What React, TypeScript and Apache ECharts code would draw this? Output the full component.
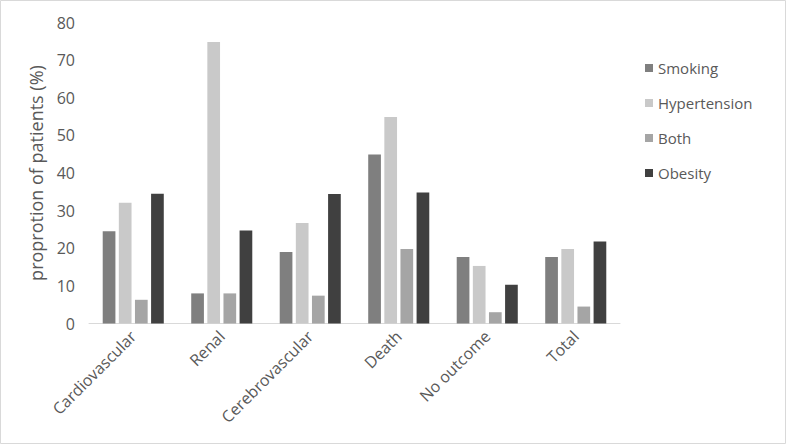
import React, { useEffect, useRef } from "react";
import * as echarts from "echarts";

const categories = ["Cardiovascular", "Renal", "Cerebrovascular", "Death", "No outcome", "Total"];
const smoking = [24.5, 8.0, 19.0, 44.9, 17.7, 17.7];
const hypertension = [32.1, 74.8, 26.7, 54.9, 15.3, 19.8];
const both = [6.3, 8.0, 7.4, 19.8, 3.0, 4.5];
const obesity = [34.5, 24.7, 34.4, 34.8, 10.3, 21.8];
const seriesNames = ["Smoking", "Hypertension", "Both", "Obesity"];
const seriesColors = ["#7f7f7f", "#c9c9c9", "#a5a5a5", "#404040"];
const yTitle = "proprotion of patients (%)";

const FONT = "'Open Sans', 'DejaVu Sans', sans-serif";

export default function App() {
  const ref = useRef<HTMLDivElement>(null);
  useEffect(() => {
    if (!ref.current) return;
    const chart = echarts.init(ref.current, null, { renderer: "svg" });
    const data = [smoking, hypertension, both, obesity];
    chart.setOption({
      animation: false,
      backgroundColor: "#ffffff",
      textStyle: { fontFamily: FONT },
      grid: { left: 89, right: 167, top: 22.5, bottom: 123.5, containLabel: false },
      legend: {
        orient: "vertical",
        left: 640,
        top: 54,
        itemWidth: 8,
        itemHeight: 8,
        itemGap: 17,
        icon: "rect",
        data: seriesNames,
        textStyle: { fontFamily: FONT, fontSize: 15, color: "#595959", lineHeight: 18 },
      },
      xAxis: {
        type: "category",
        data: categories,
        axisLine: { show: true, lineStyle: { color: "#d9d9d9", width: 1 } },
        axisTick: { show: false },
        axisLabel: {
          interval: 0,
          rotate: 45,
          margin: 10,
          fontFamily: FONT,
          fontSize: 16,
          color: "#595959",
        },
      },
      yAxis: {
        type: "value",
        min: 0,
        max: 80,
        interval: 10,
        name: yTitle,
        nameLocation: "middle",
        nameGap: 44,
        nameTextStyle: { fontFamily: FONT, fontSize: 18, color: "#595959" },
        axisLine: { show: false },
        axisTick: { show: false },
        splitLine: { show: false },
        axisLabel: { fontFamily: FONT, fontSize: 16, color: "#595959", margin: 14 },
      },
      series: seriesNames.map((name, i) => ({
        name,
        type: "bar",
        data: data[i],
        barGap: "27%",
        barCategoryGap: "31%",
        itemStyle: { color: seriesColors[i] },
      })),
      graphic: [
        {
          type: "rect",
          shape: { x: 0.5, y: 0.5, width: 785, height: 443 },
          style: { fill: "none", stroke: "#d9d9d9", lineWidth: 1 },
          silent: true,
        },
      ],
    });
    return () => chart.dispose();
  }, []);
  return (
    <div
      ref={ref}
      style={{ position: "fixed", left: 0, top: 0, width: 787, height: 447 }}
    />
  );
}
